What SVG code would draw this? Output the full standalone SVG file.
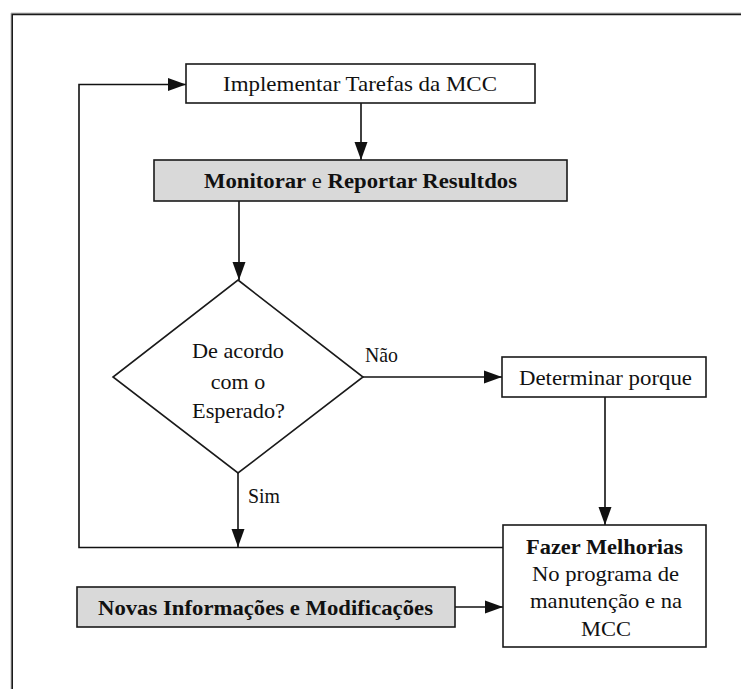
<svg xmlns="http://www.w3.org/2000/svg" width="741" height="689" viewBox="0 0 741 689">
  <style>
    .box { fill: #ffffff; stroke: #1a1a1a; stroke-width: 1.6; }
    .grey { fill: #d9d9d9; stroke: #1a1a1a; stroke-width: 1.6; }
    .t { font-family: "Liberation Serif", "Times New Roman", "DejaVu Serif", serif; font-size: 22px; fill: #111111; }
    .b { font-weight: bold; }
    .c { text-anchor: middle; }
    .arrow { fill: none; stroke: #111111; stroke-width: 1.6; marker-end: url(#head); }
  </style>
  <defs>
    <marker id="head" markerUnits="userSpaceOnUse" markerWidth="20" markerHeight="14" refX="18" refY="7" orient="auto">
      <path d="M0,0.5 L18,7 L0,13.5 Z" fill="#111111"/>
    </marker>
  </defs>

  <rect width="741" height="689" fill="#ffffff"/>

  <!-- page frame -->
  <g id="frame">
    <path d="M11,689 V13 H741" fill="none" stroke="#bdbdbd" stroke-width="1"/>
    <path d="M12.2,689 V14.4 H741" fill="none" stroke="#1a1a1a" stroke-width="1.6"/>
  </g>

  <!-- connectors -->
  <g id="connectors">
    <line class="arrow" x1="361" y1="103" x2="361" y2="160"/>
    <line class="arrow" x1="239" y1="201" x2="239" y2="280"/>
    <line class="arrow" x1="363" y1="377" x2="502" y2="377"/>
    <line class="arrow" x1="605" y1="397" x2="605" y2="525"/>
    <line class="arrow" x1="238" y1="473" x2="238" y2="547"/>
    <polyline class="arrow" points="503,547.5 79,547.5 79,84.5 186,84.5"/>
    <line class="arrow" x1="455" y1="607" x2="503" y2="607"/>
    <text class="t" x="365" y="362" textLength="33" lengthAdjust="spacingAndGlyphs">Não</text>
    <text class="t" x="248" y="503" textLength="32" lengthAdjust="spacingAndGlyphs">Sim</text>
  </g>

  <g id="implementar">
    <rect class="box" x="186" y="64" width="349" height="39"/>
    <text class="t c" x="360" y="91" textLength="274" lengthAdjust="spacingAndGlyphs">Implementar Tarefas da MCC</text>
  </g>

  <g id="monitorar">
    <rect class="grey" x="154" y="160" width="413" height="41"/>
    <text class="t c" x="360.5" y="188" textLength="313" lengthAdjust="spacingAndGlyphs"><tspan class="b">Monitorar</tspan> e <tspan class="b">Reportar Resultdos</tspan></text>
  </g>

  <g id="decisao">
    <polygon class="box" points="238,280 363,377 238,473 113,377"/>
    <text class="t c" x="238" y="358" textLength="92" lengthAdjust="spacingAndGlyphs">De acordo</text>
    <text class="t c" x="238" y="389">com o</text>
    <text class="t c" x="238.5" y="418" textLength="93" lengthAdjust="spacingAndGlyphs">Esperado?</text>
  </g>

  <g id="determinar">
    <rect class="box" x="502" y="357" width="204" height="40"/>
    <text class="t c" x="605.5" y="385" textLength="173" lengthAdjust="spacingAndGlyphs">Determinar porque</text>
  </g>

  <g id="melhorias">
    <rect class="box" x="503" y="525" width="203" height="122"/>
    <text class="t c b" x="604.5" y="554" textLength="157" lengthAdjust="spacingAndGlyphs">Fazer Melhorias</text>
    <text class="t c" x="605.5" y="581" textLength="147" lengthAdjust="spacingAndGlyphs">No programa de</text>
    <text class="t c" x="606" y="608" textLength="152" lengthAdjust="spacingAndGlyphs">manutenção e na</text>
    <text class="t c" x="606" y="636" textLength="50" lengthAdjust="spacingAndGlyphs">MCC</text>
  </g>

  <g id="novas">
    <rect class="grey" x="77" y="587" width="378" height="40"/>
    <text class="t c b" x="265.5" y="615" textLength="335" lengthAdjust="spacingAndGlyphs">Novas Informações e Modificações</text>
  </g>
</svg>
